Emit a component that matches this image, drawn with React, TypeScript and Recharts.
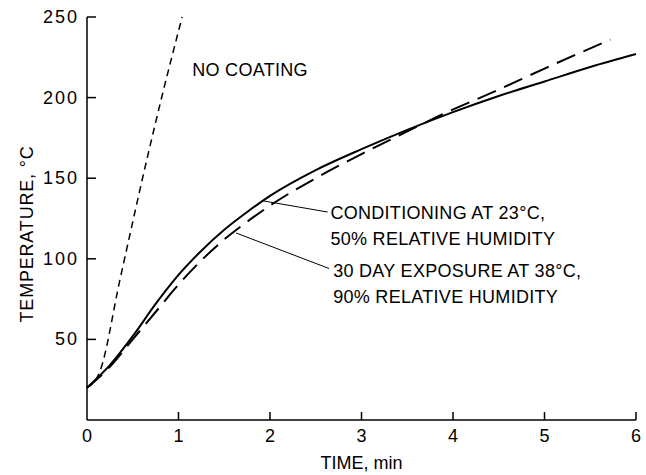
import React from 'react';
import { LineChart, Line, XAxis, YAxis, ReferenceLine, ReferenceDot, Label } from 'recharts';

// values
const noCoatingTime = [0, 0.14, 0.36, 0.66, 0.82, 1.04];
const noCoatingTemp = [20, 30, 87, 163, 201, 250];

const conditionedTime = [0, 0.25, 0.5, 0.75, 1.0, 1.25, 1.5, 1.75, 2.0, 2.5, 3.0, 3.5, 4.0, 4.5, 5.0, 5.5, 6.0];
const conditionedTemp = [20, 34, 52, 72, 90, 105, 118, 129, 139, 155, 168, 180, 191, 201, 210, 219, 227];

const exposedTime = [0, 0.25, 0.5, 0.75, 1.0, 1.25, 1.5, 1.75, 2.0, 2.5, 3.0, 3.5, 3.9, 4.5, 5.0, 5.72];
const exposedTemp = [20, 33, 50, 67, 84, 99, 112, 123, 133, 150, 165, 179, 190, 205, 218, 236];

const timeTicks = [0, 1, 2, 3, 4, 5, 6];
const tempTicks = [50, 100, 150, 200, 250];

const noCoatingLabel = ['NO COATING'];
const conditionedLabel = ['CONDITIONING AT 23°C,', '50% RELATIVE HUMIDITY'];
const exposedLabel = ['30 DAY EXPOSURE AT 38°C,', '90% RELATIVE HUMIDITY'];

const toPoints = (xs: number[], ys: number[]) => xs.map((t, i) => ({ time: t, temp: ys[i] }));

const FONT = '"Liberation Sans", Arial, sans-serif';

const XTick = ({ x, y, payload }: any) => (
  <g>
    {payload.value !== 0 && <line x1={x} y1={y} x2={x} y2={y - 8} stroke="#000" strokeWidth={1.5} />}
    <text x={x} y={y + 22} textAnchor="middle" fontSize={18} fontFamily={FONT} fill="#000">
      {payload.value}
    </text>
  </g>
);

const YTick = ({ x, y, payload }: any) => (
  <g>
    <line x1={x} y1={y} x2={x + 9} y2={y} stroke="#000" strokeWidth={1.5} />
    <text x={x - 8} y={y + 6} textAnchor="end" fontSize={18} letterSpacing={2} fontFamily={FONT} fill="#000">
      {payload.value}
    </text>
  </g>
);

const note = (lines: string[]) => (props: any) => (
  <text x={props.cx} y={props.cy} fontSize={18} letterSpacing={0.3} fontFamily={FONT} fill="#000">
    {lines.map((l, i) => (
      <tspan key={i} x={props.cx} dy={i === 0 ? 0 : 26}>
        {l}
      </tspan>
    ))}
  </text>
);

export default function App() {
  return (
    <div style={{ position: 'absolute', left: 0, top: 0, background: '#fff' }}>
      <LineChart width={646} height={475} margin={{ top: 17, right: 10, left: 0, bottom: 0 }}>
        <XAxis
          type="number"
          dataKey="time"
          domain={[0, 6]}
          ticks={timeTicks}
          tickSize={0}
          tickMargin={0}
          tick={<XTick />}
          height={55}
          axisLine={{ stroke: '#000', strokeWidth: 1.5 }}
          tickLine={false}
          allowDuplicatedCategory={false}
        >
          <Label value="TIME, min" position="insideBottom" offset={6} fontSize={18} fontFamily={FONT} fill="#000" />
        </XAxis>
        <YAxis
          type="number"
          dataKey="temp"
          domain={[0, 250]}
          ticks={tempTicks}
          tickSize={0}
          tickMargin={0}
          tick={<YTick />}
          width={87}
          axisLine={{ stroke: '#000', strokeWidth: 1.5 }}
          tickLine={false}
        >
          <Label
            content={() => (
              <text transform="translate(33,234) rotate(-90)" textAnchor="middle" fontSize={18} letterSpacing={0.8} fontFamily={FONT} fill="#000">
                TEMPERATURE, °C
              </text>
            )}
          />
        </YAxis>
        <Line
          data={toPoints(noCoatingTime, noCoatingTemp)}
          dataKey="temp"
          type="monotone"
          stroke="#000"
          strokeWidth={1.5}
          strokeDasharray="7 5"
          dot={false}
          isAnimationActive={false}
        />
        <Line
          data={toPoints(exposedTime, exposedTemp)}
          dataKey="temp"
          type="monotone"
          stroke="#000"
          strokeWidth={2}
          strokeDasharray="20 9"
          dot={false}
          isAnimationActive={false}
        />
        <Line
          data={toPoints(conditionedTime, conditionedTemp)}
          dataKey="temp"
          type="monotone"
          stroke="#000"
          strokeWidth={2}
          dot={false}
          isAnimationActive={false}
        />
        <ReferenceLine segment={[{ x: 1.92, y: 136 }, { x: 2.63, y: 129 }]} stroke="#000" strokeWidth={1} />
        <ReferenceLine segment={[{ x: 1.63, y: 116 }, { x: 2.645, y: 94 }]} stroke="#000" strokeWidth={1} />
        <ReferenceDot x={1.15} y={213.4} r={0} shape={note(noCoatingLabel)} />
        <ReferenceDot x={2.66} y={124.8} r={0} shape={note(conditionedLabel)} />
        <ReferenceDot x={2.69} y={88.7} r={0} shape={note(exposedLabel)} />
      </LineChart>
    </div>
  );
}
